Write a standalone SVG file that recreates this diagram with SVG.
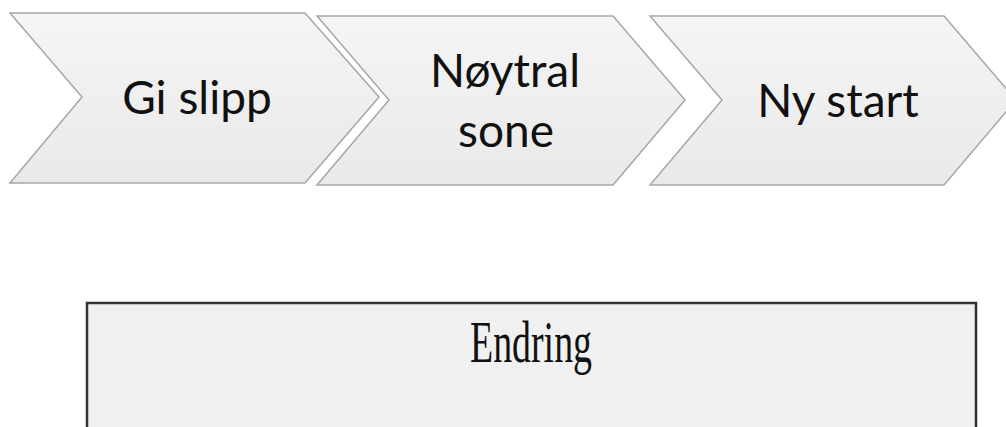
<svg xmlns="http://www.w3.org/2000/svg" width="1006" height="427" viewBox="0 0 1006 427">
  <defs>
    <linearGradient id="chevFill" x1="0" y1="0" x2="0" y2="1">
      <stop offset="0" stop-color="#f5f5f5"/>
      <stop offset="1" stop-color="#e9e9e9"/>
    </linearGradient>
    <style>
      .chev { fill: url(#chevFill); stroke: #a6a6a6; stroke-width: 1.5; stroke-linejoin: miter; }
      .lbl { font-family: Lato, "Open Sans", "Liberation Sans", sans-serif; font-size: 46px; fill: #111; text-anchor: middle; }
      .box { fill: #f0f0f0; stroke: #333; stroke-width: 2.5; }
      .title { font-family: "Liberation Serif", "Times New Roman", serif; font-size: 60px; fill: #111; text-anchor: middle; }
    </style>
  </defs>

  <!-- process steps -->
  <g id="step-gi-slipp">
    <polygon class="chev" points="10,13 305,13 379,97 305,183 10,183 82,97"/>
    <text class="lbl" x="197" y="114">Gi slipp</text>
  </g>

  <g id="step-noytral-sone">
    <polygon class="chev" points="317,16 613,16 685,100 613,185 317,185 389,100"/>
    <text class="lbl" x="505" y="87">Nøytral</text>
    <text class="lbl" x="506" y="147">sone</text>
  </g>

  <g id="step-ny-start">
    <polygon class="chev" points="650,16 944,16 1016,100 944,185 650,185 722,100"/>
    <text class="lbl" x="838" y="117">Ny start</text>
  </g>

  <!-- no connectors: steps abut each other -->
  <g id="connectors"/>

  <!-- change panel, runs off the bottom edge -->
  <g id="endring">
    <rect class="box" x="87" y="303" width="889" height="140"/>
    <text class="title" x="531" y="362" textLength="122" lengthAdjust="spacingAndGlyphs">Endring</text>
  </g>
</svg>
